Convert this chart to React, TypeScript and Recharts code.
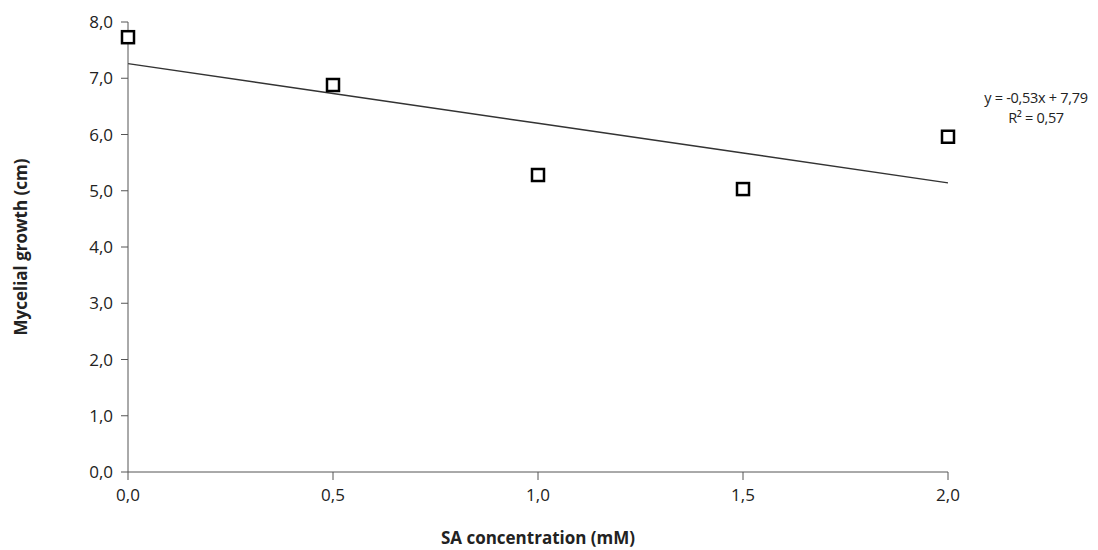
import { ComposedChart, Line, Scatter, XAxis, YAxis, Label } from 'recharts'

const concentrations = [0, 0.5, 1.0, 1.5, 2.0]
const growth = [7.73, 6.88, 5.28, 5.03, 5.96]
const xTicks = [0, 0.5, 1.0, 1.5, 2.0]
const yTicks = [0, 1, 2, 3, 4, 5, 6, 7, 8]
// Excel trendline, fitted against point index (1..5)
const trendSlope = -0.53
const trendIntercept = 7.79
const trendLabel = ['y = -0,53x + 7,79', 'R² = 0,57']

const points = concentrations.map((x, i) => ({ x, y: growth[i] }))
const trend = concentrations.map((x, i) => ({ x, t: trendSlope * (i + 1) + trendIntercept }))
const fmt = (v: number) => v.toFixed(1).replace('.', ',')

const Square = (props: any) => {
  const { cx, cy } = props
  return <rect x={cx - 6} y={cy - 6} width={12} height={12} fill="#fff" stroke="#000" strokeWidth={2.5} />
}

const YTitle = (props: any) => {
  const vb = props.viewBox
  const cx = 12
  const cy = vb.y + vb.height / 2
  return (
    <text x={cx} y={cy} transform={`rotate(-90 ${cx} ${cy})`} textAnchor="middle" dominantBaseline="central"
      style={{ fontSize: 17, fontWeight: 700, fill: '#222', fontFamily: 'Open Sans' }}>
      Mycelial growth (cm)
    </text>
  )
}

const axisColor = '#555'
const tickStyle = { fontSize: 17, fill: '#222', fontFamily: 'Open Sans' }

export default function App() {
  return (
    <div style={{ position: 'relative', width: 1082, height: 542, fontFamily: 'Open Sans' }}>
      <ComposedChart width={1082} height={542} margin={{ top: 14, right: 142, bottom: 0, left: 0 }}>
        <XAxis
          type="number"
          dataKey="x"
          domain={[0, 2]}
          ticks={xTicks}
          tickFormatter={fmt}
          tick={tickStyle}
          stroke={axisColor}
          tickSize={8}
          tickMargin={9}
          height={78}
        >
          <Label value="SA concentration (mM)" position="insideBottom" offset={6} style={{ fontSize: 17, fontWeight: 700, fill: '#222' }} />
        </XAxis>
        <YAxis
          type="number"
          domain={[0, 8]}
          ticks={yTicks}
          tickFormatter={fmt}
          tick={tickStyle}
          stroke={axisColor}
          tickSize={7}
          tickMargin={8}
          width={120}
        >
          <Label content={<YTitle />} />
        </YAxis>
        <Line data={trend} dataKey="t" type="linear" stroke="#333" strokeWidth={1.5} dot={false} isAnimationActive={false} />
        <Scatter data={points} dataKey="y" shape={<Square />} isAnimationActive={false} />
      </ComposedChart>
      <div style={{ position: 'absolute', left: 963, top: 80, width: 130, textAlign: 'center', fontSize: 14.5, lineHeight: '20px', color: '#222', letterSpacing: -0.3, whiteSpace: 'nowrap' }}>
        {trendLabel.map((s) => (
          <div key={s}>{s}</div>
        ))}
      </div>
    </div>
  )
}
